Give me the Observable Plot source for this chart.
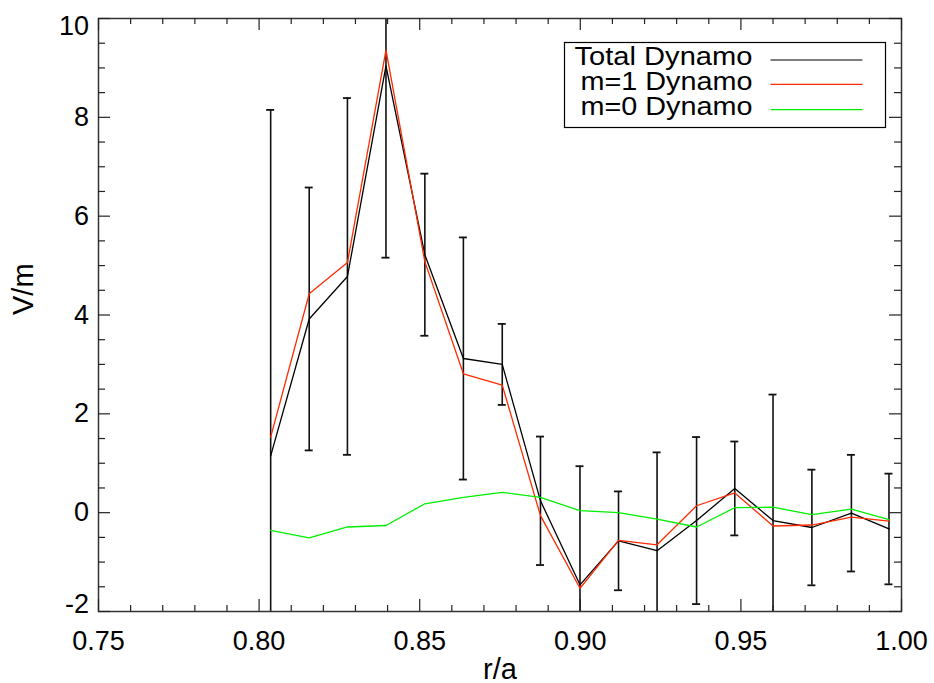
<!DOCTYPE html>
<html>
<head>
<meta charset="utf-8">
<script src="https://cdn.jsdelivr.net/npm/d3@7"></script>
<script src="https://cdn.jsdelivr.net/npm/@observablehq/plot@0.6"></script>
<style>
  html, body { margin: 0; padding: 0; background: #fff; }
  #chart { width: 934px; height: 683px; }
</style>
</head>
<body>
<div id="chart"></div>
<script>
// ---- data ----
const rOverA   = [0.8036, 0.8156, 0.8275, 0.8395, 0.8516, 0.8636, 0.8757, 0.8876, 0.8999, 0.9119, 0.9239, 0.9362, 0.9481, 0.9600, 0.9721, 0.9844, 0.9961];
const totalDyn = [1.15, 3.92, 4.78, 9.04, 5.22, 3.12, 3.00, 0.24, -1.46, -0.57, -0.77, -0.16, 0.49, -0.16, -0.30, -0.01, -0.33];
const m1Dyn    = [1.53, 4.43, 5.06, 9.36, 5.08, 2.81, 2.58, -0.06, -1.53, -0.56, -0.65, 0.14, 0.40, -0.27, -0.25, -0.09, -0.17];
const m0Dyn    = [-0.36, -0.51, -0.29, -0.26, 0.18, 0.31, 0.41, 0.31, 0.04, 0.00, -0.13, -0.29, 0.10, 0.11, -0.04, 0.07, -0.14];
const errTotal = [7.00, 2.66, 3.61, 3.88, 1.64, 2.45, 0.82, 1.30, 2.40, 1.00, 1.99, 1.69, 0.95, 2.55, 1.17, 1.18, 1.12];

const seriesNames  = ["Total Dynamo", "m=1 Dynamo", "m=0 Dynamo"];
const seriesColors = ["#000000", "#ff2a00", "#00ee00"];

const xTickValues = [0.75, 0.80, 0.85, 0.90, 0.95, 1.00];
const xTickLabels = ["0.75", "0.80", "0.85", "0.90", "0.95", "1.00"];
const yTickValues = [-2, 0, 2, 4, 6, 8, 10];
const yTickLabels = ["-2", "0", "2", "4", "6", "8", "10"];
const xTitle = "r/a";
const yTitle = "V/m";

// ---- derived tables ----
const rows = rOverA.map((r, i) => ({
  r, total: totalDyn[i], m1: m1Dyn[i], m0: m0Dyn[i],
  lo: totalDyn[i] - errTotal[i], hi: totalDyn[i] + errTotal[i]
}));
const xMinor = d3.range(75, 101, 1).map(v => v / 100).filter(v => !xTickValues.some(t => Math.abs(t - v) < 1e-9));
const yMinor = d3.range(-4, 21, 1).map(v => v / 2).filter(v => !yTickValues.includes(v));
const xDom = [0.75, 1.0], yDom = [-2, 10];

const FONT = "'Liberation Sans', Arial, Helvetica, sans-serif";

function tickMarks() {
  const st = {stroke: "#222", strokeWidth: 1.2};
  return [
    Plot.ruleX(xTickValues, {x: d => d, y1: yDom[0], y2: yDom[0], insetTop: -12, ...st}),
    Plot.ruleX(xMinor, {x: d => d, y1: yDom[0], y2: yDom[0], insetTop: -6, ...st}),
    Plot.ruleX(xTickValues, {x: d => d, y1: yDom[1], y2: yDom[1], insetBottom: -12, ...st}),
    Plot.ruleX(xMinor, {x: d => d, y1: yDom[1], y2: yDom[1], insetBottom: -6, ...st}),
    Plot.ruleY(yTickValues, {y: d => d, x1: xDom[0], x2: xDom[0], insetRight: -12, ...st}),
    Plot.ruleY(yMinor, {y: d => d, x1: xDom[0], x2: xDom[0], insetRight: -7, ...st}),
    Plot.ruleY(yTickValues, {y: d => d, x1: xDom[1], x2: xDom[1], insetLeft: -12, ...st}),
    Plot.ruleY(yMinor, {y: d => d, x1: xDom[1], x2: xDom[1], insetLeft: -7, ...st})
  ];
}

const legendTextWidths = [178, 172, 172];

function legendMark(index, scales, values, dimensions) {
  const xr = scales.x(xDom[1]);
  const yt = scales.y(yDom[1]);
  const boxRight = xr - 15.5, boxTop = yt + 24.5;
  const boxW = 321, boxH = 85;
  const g = d3.create("svg:g");
  g.append("rect")
    .attr("x", boxRight - boxW).attr("y", boxTop)
    .attr("width", boxW).attr("height", boxH)
    .attr("fill", "#fff").attr("stroke", "#000").attr("stroke-width", 1.2);
  seriesNames.forEach((name, i) => {
    const base = boxTop + 22 + i * 25.3;
    g.append("text")
      .attr("x", boxRight - boxW + 188).attr("y", base)
      .attr("text-anchor", "end")
      .attr("font-family", FONT).attr("font-size", 25)
      .attr("textLength", legendTextWidths[i])
      .attr("lengthAdjust", "spacingAndGlyphs")
      .attr("fill", "#000")
      .text(name);
    g.append("line")
      .attr("x1", boxRight - boxW + 206).attr("x2", boxRight - boxW + 298)
      .attr("y1", base - 4.5 + (i === 0 ? 0 : -1)).attr("y2", base - 4.5 + (i === 0 ? 0 : -1))
      .attr("stroke", seriesColors[i]).attr("stroke-width", 1.2);
  });
  return g.node();
}

const midYTicks = yTickValues.filter(v => v !== yDom[0] && v !== yDom[1]);
const labelOf = v => yTickLabels[yTickValues.indexOf(v)];

const chart = Plot.plot({
  width: 934,
  height: 683,
  marginLeft: 98,
  marginRight: 33,
  marginTop: 18,
  marginBottom: 72,
  x: {domain: xDom, label: null},
  y: {domain: yDom, label: null},
  style: {fontFamily: FONT, fontSize: "27px", color: "#000", background: "#fff"},
  marks: [
    // error bars on the total dynamo
    Plot.ruleX(rows, {x: "r", y1: "lo", y2: "hi", stroke: "#111", strokeWidth: 1.6, clip: true}),
    Plot.ruleY(rows, {y: "hi", x1: "r", x2: "r", insetLeft: -4, insetRight: -4, stroke: "#111", strokeWidth: 1.8, clip: true}),
    Plot.ruleY(rows, {y: "lo", x1: "r", x2: "r", insetLeft: -4, insetRight: -4, stroke: "#111", strokeWidth: 1.8, clip: true}),
    // series
    Plot.line(rows, {x: "r", y: "total", stroke: seriesColors[0], strokeWidth: 1.3, clip: true}),
    Plot.line(rows, {x: "r", y: "m1", stroke: seriesColors[1], strokeWidth: 1.3, clip: true}),
    Plot.line(rows, {x: "r", y: "m0", stroke: seriesColors[2], strokeWidth: 1.3, clip: true}),
    // frame & ticks
    Plot.frame({stroke: "#333", strokeWidth: 1.5}),
    ...tickMarks(),
    // tick labels
    Plot.axisX({anchor: "bottom", ticks: xTickValues, tickSize: 0, tickPadding: 19,
      tickFormat: v => xTickLabels[xTickValues.indexOf(v)], label: null}),
    Plot.axisY({anchor: "left", ticks: midYTicks, tickSize: 0, tickPadding: 9.5,
      tickFormat: labelOf, label: null}),
    Plot.text([yDom[1]], {y: d => d, text: d => labelOf(d), frameAnchor: "left", textAnchor: "end", lineAnchor: "top", dx: -9.5, dy: -2.5}),
    Plot.text([yDom[0]], {y: d => d, text: d => labelOf(d), frameAnchor: "left", textAnchor: "end", lineAnchor: "bottom", dx: -9.5, dy: 1}),
    // axis titles
    Plot.text([xTitle], {text: d => d, frameAnchor: "bottom", lineAnchor: "bottom", dy: 67, fontSize: 29}),
    Plot.text([yTitle], {text: d => d, frameAnchor: "left", rotate: -90, dx: -75, fontSize: 29}),
    // legend
    legendMark
  ]
});

document.getElementById("chart").appendChild(chart);
</script>
</body>
</html>
